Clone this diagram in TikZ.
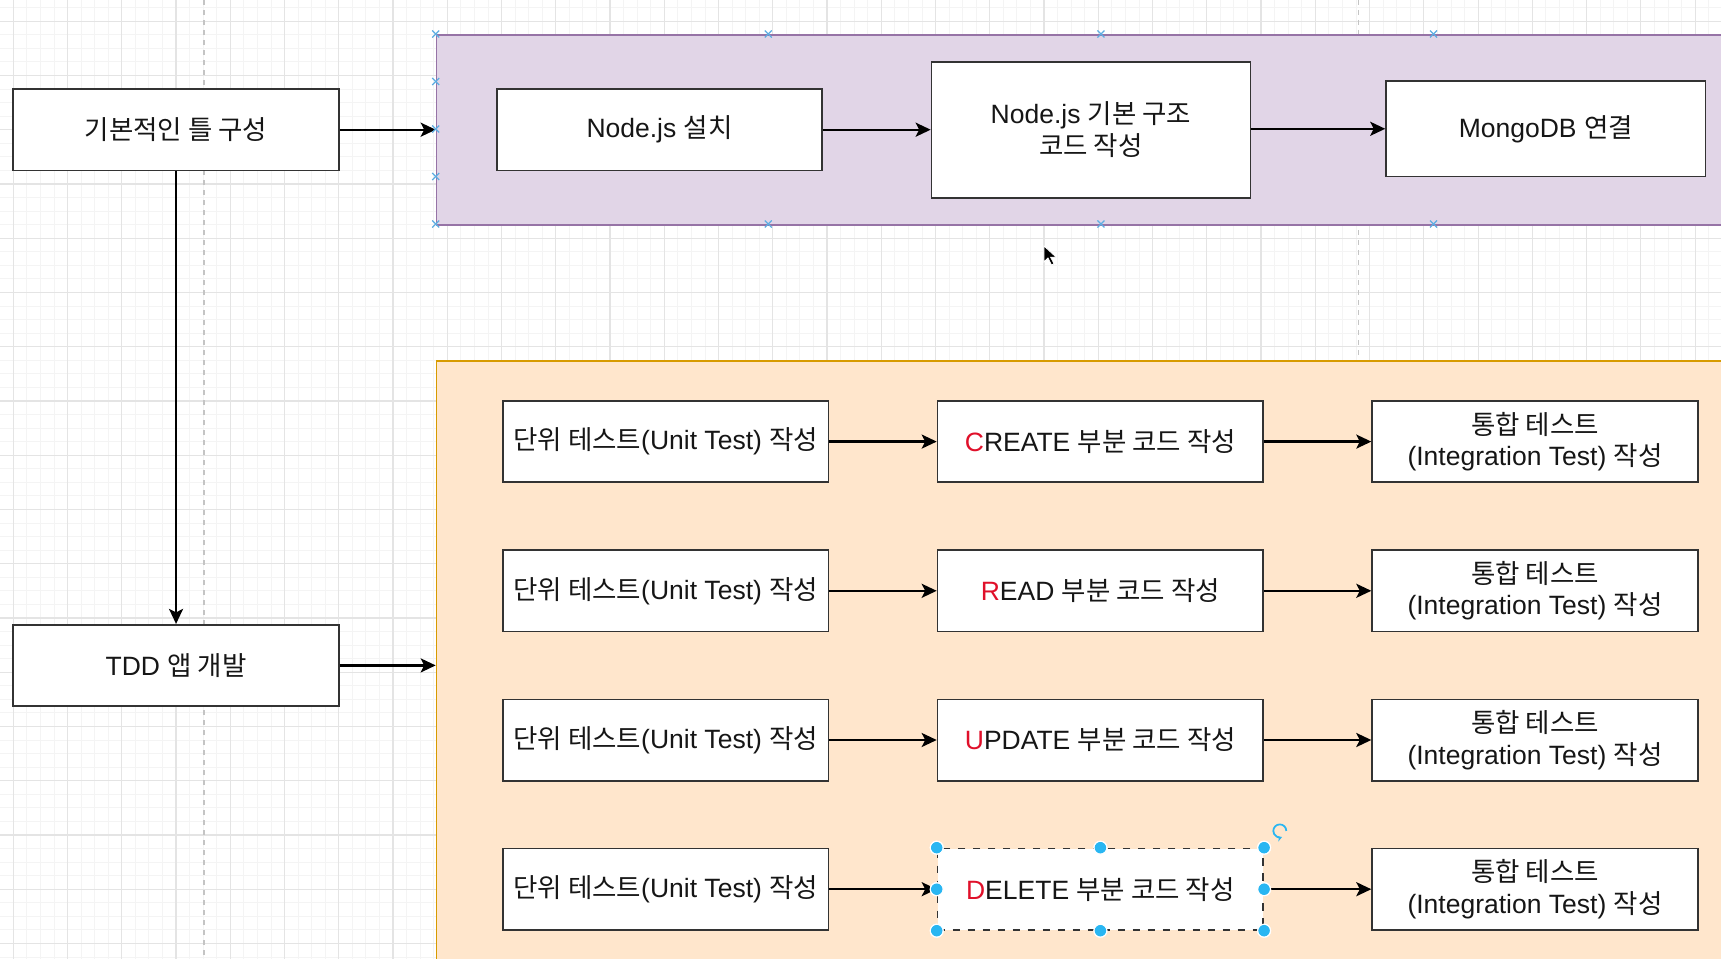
\documentclass[tikz,border=0pt]{standalone}
\usepackage{fontspec}
\setmainfont{Liberation Sans}
\newfontfamily\kr{Noto Sans CJK KR}
\usetikzlibrary{arrows.meta}
\definecolor{gminorc}{HTML}{F4F4F4}
\definecolor{gmajorc}{HTML}{E4E4E4}
\definecolor{pagec}{HTML}{C4C4C4}
\definecolor{purplefill}{HTML}{E1D5E7}
\definecolor{purpleline}{HTML}{9673A6}
\definecolor{orangefill}{HTML}{FFE6CC}
\definecolor{orangeline}{HTML}{D79B00}
\definecolor{boxline}{HTML}{333333}
\definecolor{txt}{HTML}{161616}
\definecolor{redletter}{HTML}{E0102A}
\definecolor{selblue}{HTML}{29B6F2}
\definecolor{xblue}{HTML}{5DADE2}
\tikzset{
  gminor/.style={draw=gminorc, line width=0.35pt},
  gmajor/.style={draw=gmajorc, line width=0.45pt},
  pagebreak/.style={draw=pagec, line width=0.6pt, dash pattern=on 2pt off 2pt},
  container/.style={rectangle, line width=0.7pt, inner sep=0pt, anchor=north west},
  box/.style={rectangle, draw=boxline, line width=0.65pt, fill=white, align=center,
    inner sep=2pt, font=\fontsize{10.6}{12.6}\selectfont, text=txt},
  wide/.style={minimum width=130.3pt, minimum height=32.55pt},
  conn/.style={draw=black, line width=0.95pt, -{Stealth[length=6pt,width=5.6pt,inset=1.4pt]}},
  xmark/.style={draw=xblue, line width=0.5pt},
  handle/.style={fill=selblue, draw=white, line width=0.4pt}
}
\begin{document}
\begin{tikzpicture}[x=0.4pt,y=-0.4pt]
\useasboundingbox (0,0) rectangle (1721,959);
\clip (0,0) rectangle (1721,959);
% background grid
\fill[white] (0,0) rectangle (1721,959);
\foreach \k in {-1,...,126} \draw[gminor] ({13.3+13.5625*\k},0) -- ++(0,959);
\foreach \k in {-2,...,69} \draw[gminor] (0,{21.2+13.5625*\k}) -- ++(1721,0);
\foreach \k in {0,...,31} \draw[gmajor] ({13.3+54.25*\k},0) -- ++(0,959);
\foreach \k in {0,...,17} \draw[gmajor] (0,{21.2+54.25*\k}) -- ++(1721,0);
% page breaks
\coordinate (pb1) at (204,0);
\coordinate (pb2) at (1358.3,0);
\draw[pagebreak] (pb1) -- ++(0,959);
\draw[pagebreak] (pb2) -- ++(0,959);

% containers
\node[container, fill=purplefill, draw=purpleline, minimum width=532.2pt, minimum height=76pt] (purple) at (435.7,34) {};
\node[container, fill=orangefill, draw=orangeline, minimum width=532.2pt, minimum height=260pt] (orange) at (435.7,360) {};

% left column
\node[box, wide] (base) at (176.05,129.7) {\kr 기본적인 틀 구성};
\node[box, wide] (tdd) at (176.05,665.4) {TDD {\kr 앱 개발}};

% purple row
\node[box, minimum width=130pt, minimum height=32.55pt] (install) at (659.5,129.7) {Node.js {\kr 설치}};
\node[box, minimum width=127.6pt, minimum height=54.4pt] (struct) at (1091,129.7) {Node.js {\kr 기본 구조}\\{\kr 코드 작성}};
\node[box, minimum width=127.8pt, minimum height=38.3pt] (mongo) at (1545.8,128.8) {MongoDB {\kr 연결}};

% orange rows
\foreach \r/\y/\first/\rest/\sty in {1/441.6/C/REATE/solid, 2/590.8/R/EAD/solid, 3/740.0/U/PDATE/solid, 4/889.2/D/ELETE/dashed}{
  \node[box, wide] (unit\r) at (665.7,\y) {{\kr 단위 테스트}(Unit Test) {\kr 작성}};
  \node[box, wide, \sty] (code\r) at (1100.4,\y) {\textcolor{redletter}{\first}\rest\ {\kr 부분 코드 작성}};
  \node[box, wide] (integ\r) at (1535,\y) {{\kr 통합 테스트}\\(Integration Test) {\kr 작성}};
  \draw[conn] (unit\r) -- (code\r);
  \draw[conn] (code\r) -- (integ\r);
}

% connectors
\draw[conn] (base.east) -- (base.east -| purple.west);
\draw[conn] (base.south) -- (tdd.north);
\draw[conn] (tdd.east) -- (tdd.east -| orange.west);
\draw[conn] (install) -- (struct);
\draw[conn] (struct.east |- mongo.west) -- (mongo.west);

% connection markers on the purple container
\foreach \px/\py in {435.7/34, 768.3/34, 1100.9/34, 1433.5/34,
                     435.7/224, 768.3/224, 1100.9/224, 1433.5/224,
                     435.7/81.5, 435.7/129, 435.7/176.5}{
  \draw[xmark] (\px,\py) ++(-3.5,-3.5) -- ++(7,7);
  \draw[xmark] (\px,\py) ++(-3.5,3.5) -- ++(7,-7);
}

% selection handles on the DELETE box
\foreach \a in {north west, north, north east, west, east, south west, south, south east}{
  \fill[handle] (code4.\a) circle[radius=2.6pt];
  \draw[handle, fill=none, draw=white] (code4.\a) circle[radius=2.6pt];
}
\coordinate (rot) at (1279.8,830.9);
\draw[selblue, line width=0.7pt, -{Stealth[length=2pt,width=2.4pt]}] (rot) ++(2.6pt,0pt) arc[start angle=0, end angle=290, radius=2.6pt];

% mouse pointer
\coordinate (cur) at (1044,246);
\filldraw[fill=black, draw=white, line width=0.3pt] (cur) -- ++(0,16) -- ++(4,-4) -- ++(3.5,7) -- ++(2.5,-1.2) -- ++(-3.4,-6.6) -- ++(5.6,0) -- cycle;
\end{tikzpicture}
\end{document}
